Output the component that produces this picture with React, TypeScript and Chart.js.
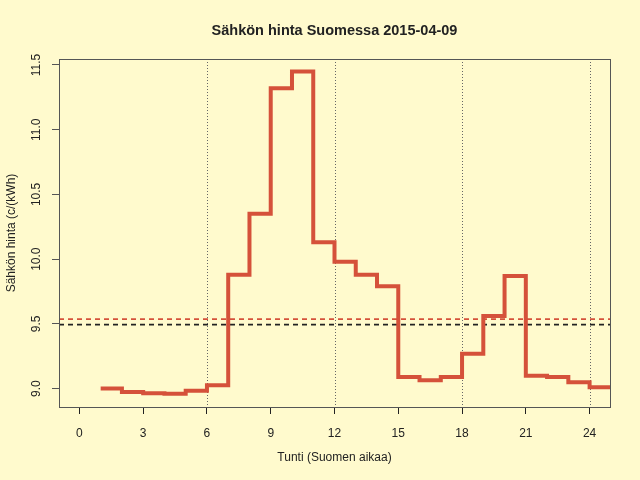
import { useEffect, useRef } from "react";
import { Chart, registerables, Plugin } from "chart.js";

Chart.register(...registerables);

// hourly price, c/kWh, hour 1..24 (each value holds for one hour)
const hours = [1, 2, 3, 4, 5, 6, 7, 8, 9, 10, 11, 12, 13, 14, 15, 16, 17, 18, 19, 20, 21, 22, 23, 24];
const prices = [
  9.0, 8.974, 8.964, 8.96, 8.984, 9.026, 9.88, 10.35, 11.32, 11.45, 10.13, 9.98,
  9.88, 9.79, 9.09, 9.065, 9.09, 9.27, 9.56, 9.87, 9.1, 9.09, 9.05, 9.01,
];
const xTicks = [0, 3, 6, 9, 12, 15, 18, 21, 24];
const yTicks = [9.0, 9.5, 10.0, 10.5, 11.0, 11.5];
const gridHours = [6, 12, 18, 24];
const meanPrice = 9.537; // red dashed
const refPrice = 9.494; // black dashed

const BG = "#FFFACD";
const RED = "#D5513A";
const INK = "#222222";
const FONT = "'Liberation Sans', Arial, sans-serif";

const decorations: Plugin<"line"> = {
  id: "decorations",
  beforeDatasetsDraw(chart) {
    const { ctx, chartArea: a, scales } = chart;
    const x = scales.x;
    const y = scales.y;
    ctx.save();
    // vertical dotted lines
    ctx.strokeStyle = "#666666";
    ctx.lineWidth = 1;
    ctx.setLineDash([1, 2]);
    gridHours.forEach((h) => {
      const px = Math.round(x.getPixelForValue(h)) + 0.5;
      ctx.beginPath();
      ctx.moveTo(px, a.top);
      ctx.lineTo(px, a.bottom);
      ctx.stroke();
    });
    // horizontal dashed reference lines
    ctx.lineWidth = 1.6;
    ctx.setLineDash([5, 4]);
    [
      { v: meanPrice, c: RED },
      { v: refPrice, c: INK },
    ].forEach(({ v, c }) => {
      const py = y.getPixelForValue(v);
      ctx.strokeStyle = c;
      ctx.beginPath();
      ctx.moveTo(a.left, py);
      ctx.lineTo(a.right, py);
      ctx.stroke();
    });
    ctx.restore();
  },
  afterDraw(chart) {
    const { ctx, chartArea: a, scales } = chart;
    const y = scales.y;
    ctx.save();
    // box
    ctx.strokeStyle = "#555555";
    ctx.lineWidth = 1;
    ctx.setLineDash([]);
    ctx.strokeRect(Math.round(a.left) + 0.5, Math.round(a.top) + 0.5, Math.round(a.right - a.left), Math.round(a.bottom - a.top));
    // y tick labels, rotated like R
    ctx.fillStyle = INK;
    ctx.font = `12px ${FONT}`;
    ctx.textAlign = "center";
    ctx.textBaseline = "middle";
    yTicks.forEach((t) => {
      ctx.save();
      ctx.translate(37, y.getPixelForValue(t));
      ctx.rotate(-Math.PI / 2);
      ctx.fillText(t.toFixed(1), 0, 0);
      ctx.restore();
    });
    // axis titles
    ctx.save();
    ctx.translate(12, (a.top + a.bottom) / 2);
    ctx.rotate(-Math.PI / 2);
    ctx.fillText("Sähkön hinta (c/(kWh)", 0, 0);
    ctx.restore();
    ctx.fillText("Tunti (Suomen aikaa)", (a.left + a.right) / 2, 458);
    // title
    ctx.font = `bold 14.5px ${FONT}`;
    ctx.fillText("Sähkön hinta Suomessa 2015-04-09", (a.left + a.right) / 2, 31);
    ctx.restore();
  },
};

export default function App() {
  const canvasRef = useRef<HTMLCanvasElement>(null);

  useEffect(() => {
    if (!canvasRef.current) return;
    document.body.style.margin = "0";

    const points = hours.map((h, i) => ({ x: h, y: prices[i] }));
    // last hour's value carries on to the end of the step
    points.push({ x: hours[hours.length - 1] + 1, y: prices[prices.length - 1] });

    const chart = new Chart(canvasRef.current, {
      type: "line",
      data: {
        datasets: [
          {
            data: points,
            stepped: "before",
            borderColor: RED,
            borderWidth: 4,
            pointRadius: 0,
            fill: false,
            clip: 0,
          },
        ],
      },
      options: {
        responsive: false,
        animation: false,
        devicePixelRatio: 1,
        layout: { padding: { top: 59, right: 30, left: 0, bottom: 0 } },
        plugins: {
          legend: { display: false },
          tooltip: { enabled: false },
        },
        scales: {
          x: {
            type: "linear",
            min: -0.96,
            max: 24.96,
            afterBuildTicks: (s) => {
              s.ticks = xTicks.map((v) => ({ value: v }));
            },
            afterFit: (s) => {
              s.height = 73;
            },
            grid: { drawOnChartArea: false, tickLength: 7, color: INK },
            border: { color: INK },
            ticks: {
              color: INK,
              font: { family: FONT, size: 12 },
              padding: 12,
              maxRotation: 0,
              autoSkip: false,
            },
          },
          y: {
            type: "linear",
            min: 8.858,
            max: 11.546,
            afterBuildTicks: (s) => {
              s.ticks = yTicks.map((v) => ({ value: v }));
            },
            afterFit: (s) => {
              s.width = 59;
            },
            grid: { drawOnChartArea: false, tickLength: 7, color: "#555555" },
            border: { color: "#555555" },
            ticks: { display: false },
          },
        },
      },
      plugins: [decorations],
    });

    return () => chart.destroy();
  }, []);

  return (
    <div style={{ position: "absolute", left: 0, top: 0, width: 640, height: 480, background: BG }}>
      <canvas ref={canvasRef} width={640} height={480} />
    </div>
  );
}
